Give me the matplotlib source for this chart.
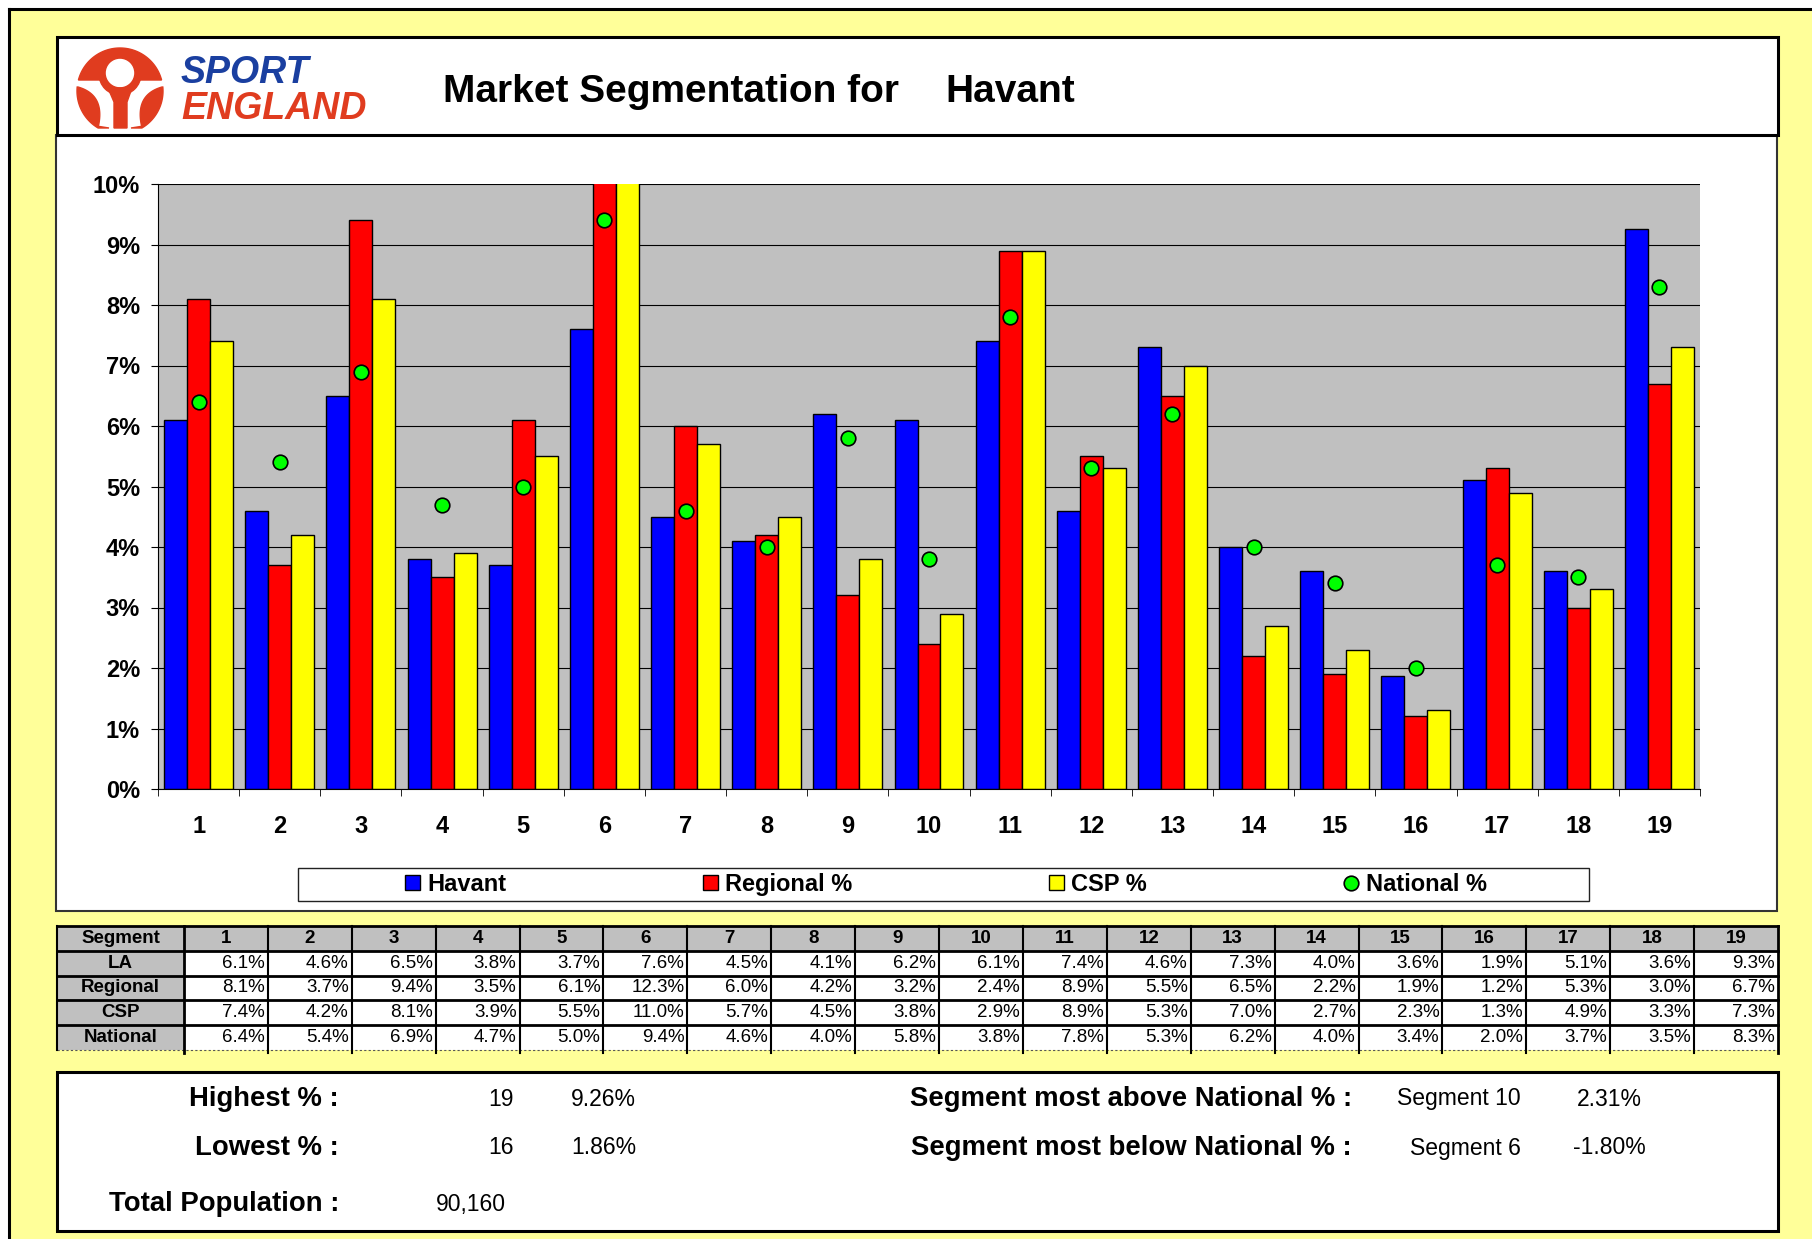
import numpy as np
import matplotlib
matplotlib.use("Agg")
import matplotlib.pyplot as plt
from matplotlib.patches import Rectangle, Polygon, Circle

plt.rcParams['font.family'] = ['Liberation Sans', 'DejaVu Sans']

# data
segments = list(range(1, 20))
la = [6.1, 4.6, 6.5, 3.8, 3.7, 7.6, 4.5, 4.1, 6.2, 6.1, 7.4, 4.6, 7.3, 4.0, 3.6, 1.86, 5.1, 3.6, 9.26]
regional = [8.1, 3.7, 9.4, 3.5, 6.1, 12.3, 6.0, 4.2, 3.2, 2.4, 8.9, 5.5, 6.5, 2.2, 1.9, 1.2, 5.3, 3.0, 6.7]
csp = [7.4, 4.2, 8.1, 3.9, 5.5, 11.0, 5.7, 4.5, 3.8, 2.9, 8.9, 5.3, 7.0, 2.7, 2.3, 1.3, 4.9, 3.3, 7.3]
national = [6.4, 5.4, 6.9, 4.7, 5.0, 9.4, 4.6, 4.0, 5.8, 3.8, 7.8, 5.3, 6.2, 4.0, 3.4, 2.0, 3.7, 3.5, 8.3]
series_names = ['Havant', 'Regional %', 'CSP %', 'National %']
row_names = ['LA', 'Regional', 'CSP', 'National']

area = 'Havant'
highest_seg, highest_val = '19', '9.26%'
lowest_seg, lowest_val = '16', '1.86%'
above_seg, above_val = 'Segment 10', '2.31%'
below_seg, below_val = 'Segment 6', '-1.80%'
population = '90,160'

W, H = 1812, 1239
fig = plt.figure(figsize=(W / 100, H / 100), dpi=100, facecolor='white')

# page background / boxes drawn in pixel coords
bg = fig.add_axes([0, 0, 1, 1], zorder=0)
bg.set_xlim(0, W)
bg.set_ylim(H, 0)
bg.axis('off')

bg.add_patch(Rectangle((9, 9), W, H, facecolor='#FFFF99', edgecolor='none'))
bg.plot([9, 9], [9, H], color='black', lw=2.2)
bg.plot([9, W], [9, 9], color='black', lw=2.2)

bg.add_patch(Rectangle((56, 135), 1721, 776, facecolor='white', edgecolor='#333333', lw=1.5))
bg.add_patch(Rectangle((57, 37), 1721, 98, facecolor='white', edgecolor='black', lw=2.2))
bg.add_patch(Rectangle((298, 868), 1291, 33, facecolor='white', edgecolor='#222222', lw=1.0))
bg.add_patch(Rectangle((57, 1072), 1721, 159, facecolor='white', edgecolor='black', lw=2.2))

# logo
logo_red = '#E03C1F'
t = np.radians(np.linspace(14.8, 165.2, 80))
bg.add_patch(Polygon(np.c_[120 + 43 * np.cos(t), 91 - 43 * np.sin(t)], closed=True, color=logo_red))
bg.add_patch(Circle((120, 74), 21, color=logo_red))
bg.add_patch(Circle((120, 73), 13.5, color='white'))
bg.add_patch(Polygon([(108, 88), (132, 88), (127, 102), (127, 128), (114, 128), (114, 102)], closed=True, color=logo_red))
for side in (-1, 1):
    ta = np.radians(np.linspace(174.7, 239.4, 40))
    ox = 120 + 43 * np.cos(ta)
    oy = 91 - 43 * np.sin(ta)
    s = np.linspace(0, 1, 40)
    p0, c, p2 = np.array([98, 128]), np.array([106, 95]), np.array([78, 87])
    inner = ((1 - s) ** 2)[:, None] * p0 + (2 * s * (1 - s))[:, None] * c + (s ** 2)[:, None] * p2
    pts = np.r_[np.c_[ox, oy], [[109, 128]], inner[1:]]
    if side == 1:
        pts[:, 0] = 240 - pts[:, 0]
    bg.add_patch(Polygon(pts, closed=True, color=logo_red))
bg.text(181, 83, 'SPORT', fontsize=27, fontweight='bold', fontstyle='italic', color='#1A3FA0', va='baseline')
bg.text(181, 119, 'ENGLAND', fontsize=27, fontweight='bold', fontstyle='italic', color=logo_red, va='baseline')

# title
bg.text(443, 102, 'Market Segmentation for', fontsize=28, fontweight='bold', va='baseline')
bg.text(945, 102, area, fontsize=28, fontweight='bold', va='baseline')

# main chart
ax = fig.add_axes([158 / W, 1 - 789 / H, 1542 / W, 605 / H], zorder=1)
ax.set_facecolor('#C0C0C0')
x = np.arange(len(segments))
w = 0.283
b1 = ax.bar(x - w, la, w, color='#0000FF', edgecolor='black', lw=1)
b2 = ax.bar(x, regional, w, color='#FF0000', edgecolor='black', lw=1)
b3 = ax.bar(x + w, csp, w, color='#FFFF00', edgecolor='black', lw=1)
dots, = ax.plot(x, national, 'o', ms=10.5, mfc='#00FF00', mec='black', mew=1.2, zorder=5)
ax.set_xlim(-0.5, len(segments) - 0.5)
ax.set_ylim(0, 10)
ax.set_yticks(range(0, 11))
ax.set_yticklabels([f'{v}%' for v in range(0, 11)], fontsize=17, fontweight='bold')
ax.yaxis.grid(True, color='black', lw=0.8)
ax.set_axisbelow(True)
ax.set_xticks(x)
ax.set_xticklabels([str(s) for s in segments], fontsize=17, fontweight='bold')
ax.set_xticks(np.arange(-0.5, len(segments), 1), minor=True)
ax.tick_params(axis='x', which='major', length=0, pad=19)
ax.tick_params(axis='x', which='minor', length=5, color='black', direction='out')
ax.tick_params(axis='y', length=5, pad=8, color='black')
for sp in ('top', 'right'):
    ax.spines[sp].set_visible(False)
for sp in ('left', 'bottom'):
    ax.spines[sp].set_color('black')

fig.legend([b1, b2, b3, dots], series_names, loc='center',
           bbox_to_anchor=(946 / W, 1 - 884.5 / H), ncol=4, frameon=False,
           prop={'size': 17, 'weight': 'bold'}, columnspacing=8.35,
           handlelength=0.62, handleheight=0.62, handletextpad=0.3)

# table
tx0, tx1, col0 = 57, 1778, 184
ty0, ty1 = 926, 1050
cw = (tx1 - col0) / len(segments)
rh = (ty1 - ty0) / 5
bg.add_patch(Rectangle((tx0, ty0), tx1 - tx0, rh, facecolor='#C0C0C0', edgecolor='none'))
bg.add_patch(Rectangle((tx0, ty0), col0 - tx0, ty1 - ty0, facecolor='#C0C0C0', edgecolor='none'))
bg.add_patch(Rectangle((col0, ty0 + rh), tx1 - col0, ty1 - ty0 - rh, facecolor='white', edgecolor='none'))
for i in range(5):
    bg.plot([tx0, tx1], [ty0 + i * rh, ty0 + i * rh], color='black', lw=2)
bg.plot([tx0, tx1], [ty1, ty1], color='#555555', lw=0.8, ls=(0, (2, 2)))
bg.plot([tx0, tx0], [ty0, ty1], color='black', lw=1.5)
bg.plot([col0, col0], [ty0, ty1 + 3], color='black', lw=2)
for j in range(1, len(segments) + 1):
    xx = col0 + j * cw
    bg.plot([xx, xx], [ty0, ty1 + 3], color='black', lw=2 if j == len(segments) else 1.5)

bg.text((tx0 + col0) / 2, ty0 + rh / 2, 'Segment', fontsize=13.5, fontweight='bold', ha='center', va='center')
for j, s in enumerate(segments):
    bg.text(col0 + (j + 0.5) * cw, ty0 + rh / 2, str(s), fontsize=13.5, fontweight='bold', ha='center', va='center')
for i, (name, vals) in enumerate(zip(row_names, [la, regional, csp, national])):
    yc = ty0 + (i + 1.5) * rh
    bg.text((tx0 + col0) / 2, yc, name, fontsize=13.5, fontweight='bold', ha='center', va='center')
    for j, v in enumerate(vals):
        bg.text(col0 + (j + 1) * cw - 3, yc, f'{v:.1f}%', fontsize=13.5, ha='right', va='center')

# summary box
rows_y = [1099, 1148, 1204]
lab = dict(fontsize=19.8, fontweight='bold', ha='right', va='center')
val = dict(fontsize=16.5, va='center')
bg.text(339, rows_y[0], 'Highest % :', **lab)
bg.text(339, rows_y[1], 'Lowest % :', **lab)
bg.text(339, rows_y[2], 'Total Population :', **lab)
bg.text(514, rows_y[0], highest_seg, ha='right', **val)
bg.text(514, rows_y[1], lowest_seg, ha='right', **val)
bg.text(571, rows_y[0], highest_val, ha='left', **val)
bg.text(571, rows_y[1], lowest_val, ha='left', **val)
bg.text(506, rows_y[2], population, ha='right', **val)
bg.text(1352, rows_y[0], 'Segment most above National % :', **lab)
bg.text(1352, rows_y[1], 'Segment most below National % :', **lab)
bg.text(1521, rows_y[0], above_seg, ha='right', **val)
bg.text(1521, rows_y[1], below_seg, ha='right', **val)
bg.text(1577, rows_y[0], above_val, ha='left', **val)
bg.text(1573, rows_y[1], below_val, ha='left', **val)

fig.savefig('out.png', dpi=100, facecolor=fig.get_facecolor())
